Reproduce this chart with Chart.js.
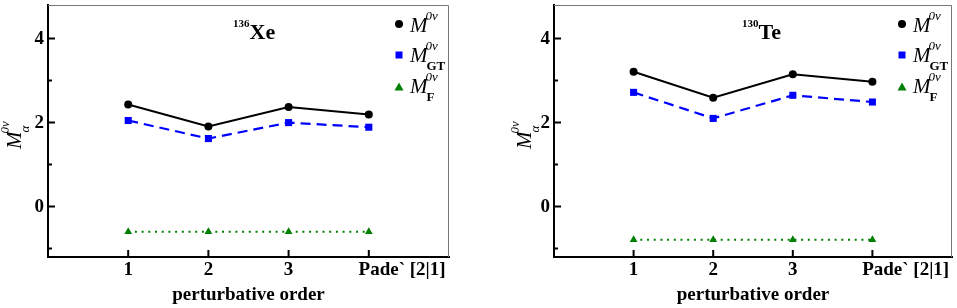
<!DOCTYPE html>
<html>
<head>
<meta charset="utf-8">
<script src="https://cdn.jsdelivr.net/npm/chart.js@4"></script>
<style>
  body { margin: 0; background: #fff; }
  .panel { position: absolute; top: 0; height: 308px; }
</style>
</head>
<body>
<div class="panel" style="left:0;width:480px"><canvas id="xe" width="480" height="308"></canvas></div>
<div class="panel" style="left:480px;width:477px"><canvas id="te" width="477" height="308"></canvas></div>
<script>
// perturbative orders on the x axis, the last one is the Pade approximant
const orders = [1, 2, 3, 4];
const orderLabels = ['1', '2', '3', 'Pade` [2|1]'];
const yTicks = [-1, 0, 1, 2, 3, 4];

// 136Xe
const xeTotal = [2.43, 1.91, 2.37, 2.19];
const xeGT = [2.05, 1.62, 2.00, 1.89];
const xeF = [-0.60, -0.60, -0.60, -0.60];

// 130Te
const teTotal = [3.21, 2.59, 3.15, 2.97];
const teGT = [2.72, 2.10, 2.65, 2.49];
const teF = [-0.79, -0.79, -0.79, -0.79];

const SERIF = '"Liberation Serif", "Times New Roman", serif';
const BLUE = '#0000ff';
const GREEN = '#008000';

// M with a 0ν superscript and an optional subscript, baseline at y
function drawM(ctx, x, y, sub, size, s, subItalic) {
  ctx.textAlign = 'left';
  ctx.textBaseline = 'alphabetic';
  ctx.font = `italic ${size}px ${SERIF}`;
  ctx.fillText('M', x, y);
  const w = ctx.measureText('M').width;
  ctx.font = `italic ${s}px ${SERIF}`;
  ctx.fillText('0ν', x + w - 2, y - size * 0.55);
  if (sub) {
    ctx.font = `${subItalic ? 'italic' : 'bold'} ${s}px ${SERIF}`;
    ctx.fillText(sub, x + w - 1, y + size * 0.36);
  }
}

function marker(ctx, kind, x, y, color) {
  ctx.fillStyle = color;
  ctx.beginPath();
  if (kind === 'circle') ctx.arc(x, y, 4, 0, Math.PI * 2);
  else if (kind === 'rect') ctx.rect(x - 3.5, y - 3.5, 7, 7);
  else { ctx.moveTo(x, y - 4.5); ctx.lineTo(x + 4.5, y + 3.5); ctx.lineTo(x - 4.5, y + 3.5); ctx.closePath(); }
  ctx.fill();
}

const decor = {
  id: 'decor',
  afterDraw(chart, args, o) {
    const { ctx, chartArea: a, scales: { x, y } } = chart;
    ctx.save();
    // light frame on top and right
    ctx.strokeStyle = '#777';
    ctx.lineWidth = 1;
    ctx.beginPath();
    ctx.moveTo(a.left, a.top + 0.5);
    ctx.lineTo(a.right - 0.5, a.top + 0.5);
    ctx.lineTo(a.right - 0.5, a.bottom);
    ctx.stroke();

    // inward tick marks
    ctx.strokeStyle = '#000';
    ctx.lineWidth = 2;
    ctx.beginPath();
    y.ticks.forEach(t => {
      const py = y.getPixelForValue(t.value);
      const len = t.value % 2 === 0 ? 7 : 4;
      ctx.moveTo(a.left, py);
      ctx.lineTo(a.left + len, py);
    });
    x.ticks.forEach(t => {
      const px = x.getPixelForValue(t.value);
      ctx.moveTo(px, a.bottom);
      ctx.lineTo(px, a.bottom - 7);
    });
    ctx.stroke();

    // nucleus label
    ctx.fillStyle = '#000';
    ctx.textBaseline = 'alphabetic';
    ctx.textAlign = 'left';
    ctx.font = `bold 11px ${SERIF}`;
    const nx = a.left + o.nucX;
    ctx.fillText(o.mass, nx, a.top + 22);
    const mw = ctx.measureText(o.mass).width;
    ctx.font = `bold 22px ${SERIF}`;
    ctx.fillText(o.sym, nx + mw, a.top + 34);

    // legend
    const lx = a.right - 50;
    const rows = [
      { kind: 'circle', color: '#000', sub: '', dy: 19, base: 8 },
      { kind: 'rect', color: BLUE, sub: 'GT', dy: 50, base: 7 },
      { kind: 'triangle', color: GREEN, sub: 'F', dy: 82, base: 6 }
    ];
    rows.forEach(r => {
      marker(ctx, r.kind, lx, a.top + r.dy, r.color);
      ctx.fillStyle = '#000';
      drawM(ctx, lx + 11, a.top + r.dy + r.base, r.sub, 21, 13, false);
    });

    // rotated y axis title
    ctx.save();
    ctx.translate(a.left + o.titleX, a.top + 144);
    ctx.rotate(-Math.PI / 2);
    ctx.fillStyle = '#000';
    drawM(ctx, 0, 0, 'α', 21, 13, true);
    ctx.restore();

    ctx.restore();
  }
};

const tickFont = { family: SERIF, size: 19, weight: 'bold' };

function makeChart(id, total, gt, f, opts) {
  const pts = vals => orders.map((x, i) => ({ x, y: vals[i] }));
  return new Chart(document.getElementById(id), {
    type: 'line',
    data: {
      datasets: [
        { data: pts(total), borderColor: '#000', backgroundColor: '#000', borderWidth: 2,
          pointStyle: 'circle', pointRadius: 4, pointBorderWidth: 0 },
        { data: pts(gt), borderColor: BLUE, backgroundColor: BLUE, borderWidth: 2.2, borderDash: [10, 6],
          pointStyle: 'rect', pointRadius: 5, pointBorderWidth: 0 },
        { data: pts(f), borderColor: GREEN, backgroundColor: GREEN, borderWidth: 2, borderDash: [2, 4.7],
          pointStyle: 'triangle', pointRadius: 4.5, pointBorderWidth: 0 }
      ]
    },
    options: {
      responsive: false,
      animation: false,
      devicePixelRatio: 1,
      layout: { padding: { left: 0, right: opts.padRight, top: 3, bottom: 0 } },
      plugins: {
        legend: { display: false },
        tooltip: { enabled: false },
        decor: { mass: opts.mass, sym: opts.sym, nucX: opts.nucX, titleX: opts.titleX }
      },
      scales: {
        x: {
          type: 'linear', min: 0, max: 5,
          afterBuildTicks: s => { s.ticks = orders.map(v => ({ value: v })); },
          afterFit: s => { s.height = 51; s.paddingLeft = 0; s.paddingRight = 0; },
          grid: { display: false, drawTicks: false },
          border: { display: true, color: '#000', width: 2 },
          ticks: {
            font: tickFont, color: '#000', padding: 2, autoSkip: false, maxRotation: 0,
            callback: v => {
              const i = orders.indexOf(v);
              return i === 3 ? '\u00a0'.repeat(14) + orderLabels[i] : orderLabels[i];
            }
          },
          title: { display: true, text: 'perturbative order', font: tickFont, color: '#000',
                   padding: { top: 0, bottom: 2 } }
        },
        y: {
          min: -1.2, max: 4.8,
          afterBuildTicks: s => { s.ticks = yTicks.map(v => ({ value: v })); },
          afterFit: s => { s.width = opts.yWidth; s.paddingTop = 0; s.paddingBottom = 0; },
          grid: { display: false, drawTicks: false },
          border: { display: true, color: '#000', width: 2 },
          ticks: { font: tickFont, color: '#000', padding: 4,
                   callback: v => (v % 2 === 0 ? String(v) : '') }
        }
      }
    },
    plugins: [decor]
  });
}

makeChart('xe', xeTotal, xeGT, xeF, { padRight: 31, yWidth: 48, mass: '136', sym: 'Xe', nucX: 185, titleX: -27 });
makeChart('te', teTotal, teGT, teF, { padRight: 3, yWidth: 74, mass: '130', sym: 'Te', nucX: 188, titleX: -23 });
</script>
</body>
</html>
